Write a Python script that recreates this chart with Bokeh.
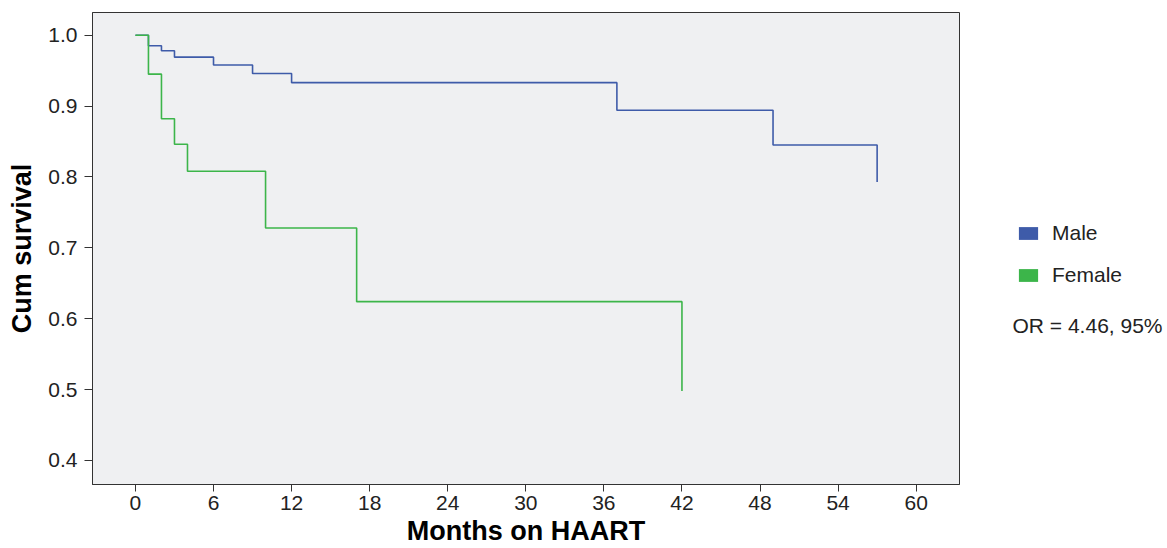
from bokeh.plotting import figure
from bokeh.models import (Legend, LegendItem, Label, Range1d, FixedTicker,
                          CustomJSTickFormatter)
from bokeh.layouts import row
from bokeh.embed import file_html
from bokeh.resources import INLINE

# Kaplan-Meier step data
male_months = [0, 1, 2, 3, 6, 9, 12, 37, 49, 57]
male_surv = [1.0, 0.985, 0.978, 0.969, 0.958, 0.946, 0.933, 0.894, 0.845, 0.793]
female_months = [0, 1, 2, 3, 4, 10, 17, 42]
female_surv = [1.0, 0.945, 0.882, 0.846, 0.808, 0.728, 0.624, 0.498]

x_ticks = [0, 6, 12, 18, 24, 30, 36, 42, 48, 54, 60]
y_ticks = [0.4, 0.5, 0.6, 0.7, 0.8, 0.9, 1.0]
series_names = ["Male", "Female"]
series_colors = ["#3e5ba9", "#3cb54a"]
note_text = "OR = 4.46, 95%"

FONT = "Liberation Sans"
W1, W2, H = 1000, 167, 548

p = figure(width=W1, height=H, output_backend="svg", toolbar_location=None,
           x_range=Range1d(-3.3, 63.33), y_range=Range1d(0.366, 1.032),
           min_border_left=92, min_border_right=W1 - 959, min_border_top=12,
           min_border_bottom=H - 485)

p.background_fill_color = "#eff0f2"
p.border_fill_color = "white"
p.outline_line_color = "#333333"
p.outline_line_width = 1
p.xgrid.visible = False
p.ygrid.visible = False

for ax in (p.xaxis[0], p.yaxis[0]):
    ax.axis_line_color = "#333333"
    ax.major_tick_line_color = "#333333"
    ax.minor_tick_line_color = None
    ax.major_tick_in = 0
    ax.major_label_text_font = FONT
    ax.major_label_text_font_size = "21px"
    ax.major_label_text_color = "#222222"
    ax.axis_label_text_font = FONT
    ax.axis_label_text_font_style = "bold"
    ax.axis_label_text_font_size = "27px"
    ax.axis_label_text_color = "black"

p.xaxis.ticker = FixedTicker(ticks=x_ticks)
p.yaxis.ticker = FixedTicker(ticks=y_ticks)
p.yaxis.formatter = CustomJSTickFormatter(code="return tick.toFixed(1);")

p.xaxis.major_tick_out = 7
p.yaxis.major_tick_out = 8
p.xaxis.major_label_standoff = 4
p.yaxis.major_label_standoff = 7
p.xaxis.axis_label_standoff = 3
p.yaxis.axis_label_standoff = 8
p.xaxis.axis_label = "Months on HAART"
p.yaxis.axis_label = "Cum survival"

p.step(male_months, male_surv, mode="after", line_color=series_colors[0], line_width=1.6)
p.step(female_months, female_surv, mode="after", line_color=series_colors[1], line_width=1.6)

# side panel holding the legend and the note
q = figure(width=W2, height=H, output_backend="svg", toolbar_location=None,
           x_range=Range1d(0, W2), y_range=Range1d(0, H),
           x_axis_type=None, y_axis_type=None,
           min_border_left=0, min_border_right=0, min_border_top=0, min_border_bottom=0)
q.outline_line_color = None
q.background_fill_color = "white"
q.border_fill_color = "white"

# legend swatch renderers (placeholders kept outside the visible range)
sw_m = q.quad(left=[-20], right=[-10], top=[-10], bottom=[-20],
              fill_color=series_colors[0], line_color=None)
sw_f = q.quad(left=[-20], right=[-10], top=[-10], bottom=[-20],
              fill_color=series_colors[1], line_color=None)

legend = Legend(items=[LegendItem(label=series_names[0], renderers=[sw_m]),
                       LegendItem(label=series_names[1], renderers=[sw_f])],
                location=(16, 197), orientation="vertical",
                glyph_width=24, glyph_height=16, label_height=24, spacing=18,
                label_standoff=12, padding=10, margin=0, border_line_color=None,
                background_fill_alpha=0, label_text_font=FONT,
                label_text_font_size="21px", label_text_color="#222222")
q.add_layout(legend, "center")

note = Label(x=12, y=185, text=note_text, text_baseline="alphabetic",
             text_font=FONT, text_font_size="21px", text_color="#222222")
q.add_layout(note)

layout = row(p, q)
open("out.html", "w").write(file_html(layout, INLINE))
